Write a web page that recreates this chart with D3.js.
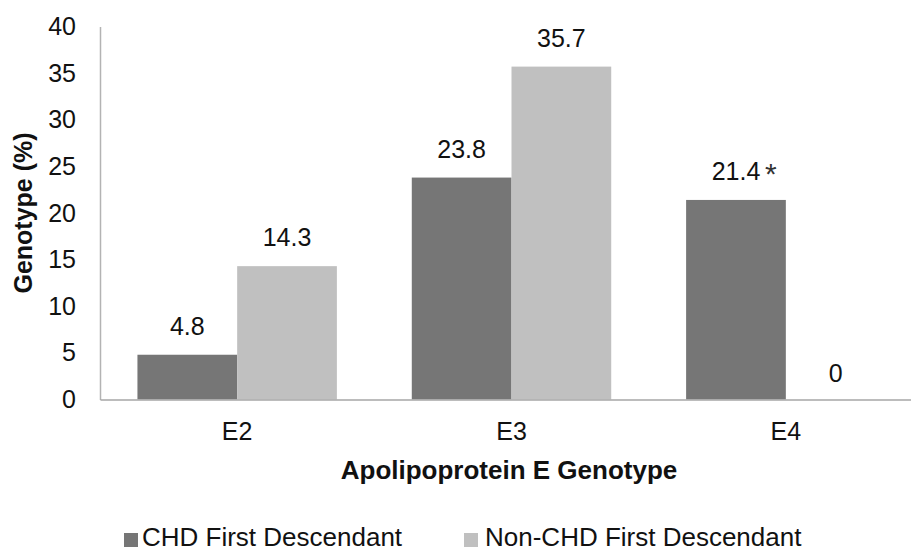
<!DOCTYPE html>
<html>
<head>
<meta charset="utf-8">
<script src="https://cdn.jsdelivr.net/npm/d3@7"></script>
<style>
  body { margin: 0; background: #fff; }
  svg text { font-family: "Liberation Sans", Arial, sans-serif; fill: #111; }
</style>
</head>
<body>
<div id="chart"></div>
<script>
var genotypes = ["E2", "E3", "E4"];
var seriesNames = ["CHD First Descendant", "Non-CHD First Descendant"];
var chdValues = [4.8, 23.8, 21.4];
var nonChdValues = [14.3, 35.7, 0];
var valueLabels = [["4.8", "14.3"], ["23.8", "35.7"], ["21.4", "0"]];
var starred = [[false, false], [false, false], [true, false]];
var yTicks = [0, 5, 10, 15, 20, 25, 30, 35, 40];
var colors = ["#767676", "#c0c0c0"];

var width = 911, height = 553;
var margin = {top: 26.5, right: -12, bottom: 153.5, left: 100};

var svg = d3.select("#chart").append("svg")
    .attr("width", width)
    .attr("height", height);

var plotW = width - margin.left - margin.right;
var plotH = height - margin.top - margin.bottom;

var x0 = d3.scaleBand()
    .domain(genotypes)
    .range([margin.left, margin.left + plotW])
    .paddingInner(0.273)
    .paddingOuter(0.1365);

var x1 = d3.scaleBand()
    .domain(seriesNames)
    .range([0, x0.bandwidth()]);

var y = d3.scaleLinear()
    .domain([0, 40])
    .range([margin.top + plotH, margin.top]);

var rows = genotypes.map(function(g, i) {
    return {
        genotype: g,
        values: [chdValues[i], nonChdValues[i]].map(function(v, j) {
            return {series: seriesNames[j], value: v, label: valueLabels[i][j], star: starred[i][j], idx: j};
        })
    };
});

// bars
var groups = svg.append("g").selectAll("g")
    .data(rows)
    .enter().append("g")
    .attr("transform", d => "translate(" + x0(d.genotype) + ",0)");

groups.selectAll("rect")
    .data(d => d.values)
    .enter().append("rect")
    .attr("x", d => x1(d.series))
    .attr("y", d => y(d.value))
    .attr("width", x1.bandwidth())
    .attr("height", d => y(0) - y(d.value))
    .attr("fill", d => colors[d.idx]);

// value labels
groups.selectAll(".val")
    .data(d => d.values)
    .enter().append("text")
    .attr("class", "val")
    .attr("x", d => x1(d.series) + x1.bandwidth() / 2)
    .attr("y", d => y(d.value) - (d.value === 0 ? 18 : 20))
    .attr("text-anchor", "middle")
    .style("font-size", "25px")
    .text(d => d.label);

// significance mark
groups.selectAll(".star")
    .data(d => d.values.filter(v => v.star))
    .enter().append("text")
    .attr("class", "star")
    .attr("x", d => x1(d.series) + x1.bandwidth() / 2 + 29)
    .attr("y", d => y(d.value) - 16)
    .style("font-size", "30px")
    .style("fill", "#333")
    .text("*");

// y axis
var yAxis = svg.append("g")
    .attr("transform", "translate(" + margin.left + ",0)")
    .call(d3.axisLeft(y).tickValues(yTicks).tickSize(0).tickPadding(24));
yAxis.select(".domain").attr("stroke", "#b3b3b3").attr("stroke-width", 1.5);
yAxis.selectAll("text").style("font-size", "25px").style("fill", "#111");

// x axis
var xAxis = svg.append("g")
    .attr("transform", "translate(0," + y(0) + ")")
    .call(d3.axisBottom(x0).tickSize(0).tickPadding(23));
xAxis.select(".domain").attr("stroke", "#a6a6a6").attr("stroke-width", 1.5);
xAxis.selectAll("text").style("font-size", "25px").style("fill", "#111");

// axis titles
svg.append("text")
    .attr("transform", "translate(32," + (margin.top + plotH / 2) + ") rotate(-90)")
    .attr("text-anchor", "middle")
    .style("font-size", "25px")
    .style("font-weight", "bold")
    .text("Genotype (%)");

svg.append("text")
    .attr("x", 509)
    .attr("y", 479)
    .attr("text-anchor", "middle")
    .style("font-size", "26px")
    .style("font-weight", "bold")
    .text("Apolipoprotein E Genotype");

// legend
var legendX = [124, 464];
var legend = svg.append("g").selectAll("g")
    .data(seriesNames)
    .enter().append("g")
    .attr("transform", (d, i) => "translate(" + legendX[i] + ",533)");

legend.append("rect")
    .attr("width", 14)
    .attr("height", 14)
    .attr("fill", (d, i) => colors[i]);

legend.append("text")
    .attr("x", (d, i) => i === 0 ? 18 : 21)
    .attr("y", 13)
    .style("font-size", "26px")
    .text(d => d);
</script>
</body>
</html>
